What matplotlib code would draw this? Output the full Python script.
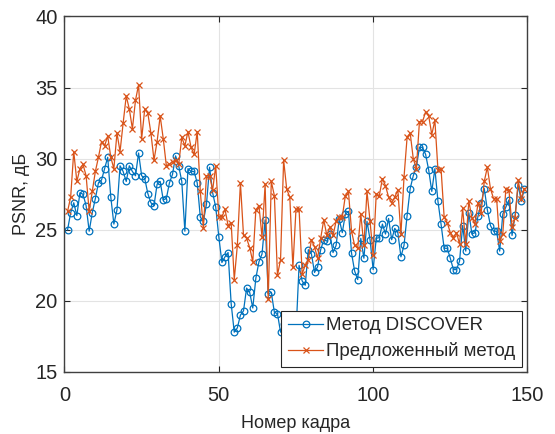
import numpy as np
import matplotlib
matplotlib.use('Agg')
import matplotlib.pyplot as plt

plt.rcParams['font.family'] = ['Liberation Sans', 'DejaVu Sans']

# PSNR по кадрам (оценка по картинке)
frames = np.arange(1, 150)

psnr_discover = [
    25.0, 26.2, 26.9, 26.0, 27.6, 27.5, 26.7, 24.9, 26.2, 27.2, 28.3, 28.5,
    29.3, 30.1, 27.3, 25.4, 26.4, 29.5, 29.1, 28.4, 29.5, 29.1, 28.8, 30.4,
    28.8, 28.6, 27.55, 26.9, 26.7, 28.2, 28.4, 27.1, 27.2, 28.3, 28.9, 30.2,
    29.5, 28.4, 24.9, 29.3, 29.1, 29.1, 28.3, 25.9, 25.6, 26.8, 29.4, 27.6,
    26.6, 24.5, 22.7, 23.1, 23.4, 19.8, 17.8, 18.1, 19.0, 19.3, 20.9, 20.6,
    19.5, 21.6, 22.75, 23.3, 25.7, 20.5, 20.6, 19.2, 19.1, 17.8,
    18.4, 17.6, 18.9, 18.0, 17.7,
    22.5, 21.4, 21.1, 23.6, 23.3, 22.0, 22.4, 23.6, 24.3, 24.2, 24.7, 23.4,
    23.9, 25.75, 24.8, 26.1, 26.3, 23.35, 22.1, 21.5, 24.4, 23.0, 25.6, 24.3, 22.2,
    24.4, 24.45, 25.4, 24.7, 25.8, 24.3, 25.1, 24.8, 23.1, 23.9, 26.0, 27.9,
    28.8, 29.4, 30.8, 30.8, 30.3, 29.2, 27.7, 29.3, 27.0, 25.4, 23.7, 23.7, 23.0,
    22.2, 22.2, 22.8, 25.3, 23.5, 26.2, 24.7, 24.8, 26.0, 26.85, 27.9, 26.4,
    25.3, 24.9, 24.9, 23.5, 26.1, 26.6, 27.1, 24.6, 26.05, 28.15, 27.0, 27.9,
]

psnr_proposed = [
    26.3, 27.3, 30.5, 28.4, 29.3, 29.6, 28.8, 26.3, 27.7, 29.1, 30.1, 31.2,
    30.9, 31.6, 30.1, 29.3, 31.8, 30.5, 32.5, 34.4, 33.5, 32.1, 34.1, 35.2,
    31.4, 33.5, 33.2, 31.8, 29.9, 31.2, 33.0, 31.4, 29.5, 29.6, 29.8, 29.9,
    29.6, 31.5, 30.9, 31.9, 30.8, 30.3, 31.9, 27.7, 25.1, 28.8, 28.8, 27.8,
    29.5, 25.9, 25.9, 26.45, 25.3, 25.5, 21.5, 23.9, 28.3, 24.6, 24.4, 23.75,
    22.75, 26.4, 26.7, 24.5, 28.2, 20.1, 28.4, 27.4, 21.8, 22.9, 29.9, 27.85,
    27.3, 22.35, 26.45, 26.45,
    21.9, 22.5, 22.9, 24.3, 23.8, 23.0, 24.4, 25.7, 24.6, 25.2, 24.6, 25.6,
    25.9, 25.9, 27.4, 27.7, 24.9, 23.9, 23.7, 26.1, 23.9, 27.7, 25.6, 23.2,
    27.5, 27.4, 28.6, 28.1, 27.3, 26.9, 27.3, 27.8, 24.7, 28.7, 31.5, 31.8,
    30.0, 29.3, 32.6, 32.6, 33.3, 33.0, 31.7, 32.7, 29.2,
    29.3, 25.9, 25.5, 24.8, 24.45, 24.8, 24.0, 26.5, 24.0, 27.0, 25.85, 25.4,
    26.9, 26.2, 28.4, 29.4, 27.9, 27.2, 27.2, 24.2, 24.7, 27.9, 27.8, 25.2,
    25.8, 28.5, 27.2, 27.9,
]

labels = ['Метод DISCOVER', 'Предложенный метод']
x_ticks = [0, 50, 100, 150]
y_ticks = [15, 20, 25, 30, 35, 40]

fig = plt.figure(figsize=(5.55, 4.34), dpi=100)
ax = fig.add_axes([0.1162, 0.1429, 0.8342, 0.8191])

ax.plot(frames, psnr_discover, color='#0072BD', marker='o', markersize=4.8,
        markerfacecolor='none', markeredgewidth=0.9, linewidth=0.9, label=labels[0])
ax.plot(frames, psnr_proposed, color='#D95319', marker='x', markersize=4.8,
        markeredgewidth=0.9, linewidth=0.9, label=labels[1])

ax.set_xlim(0, 150)
ax.set_ylim(15, 40)
ax.set_xticks(x_ticks)
ax.set_yticks(y_ticks)
ax.tick_params(axis='both', direction='in', length=4, width=0.8, colors='#262626',
               labelsize=14.5, top=True, right=True, pad=5)
ax.tick_params(axis='x', pad=10)
ax.grid(True, color='#e3e3e3', linewidth=0.8)
ax.set_axisbelow(True)
for s in ax.spines.values():
    s.set_color('#404040')
    s.set_linewidth(1.0)

ax.set_xlabel('Номер кадра', fontsize=13, color='#262626', labelpad=7)
ax.set_ylabel('PSNR, дБ', fontsize=13, color='#262626', labelpad=4)

leg = ax.legend(loc='lower right', bbox_to_anchor=(0.988, 0.014), borderaxespad=0,
                fontsize=13.4, fancybox=False, edgecolor='#262626', framealpha=1,
                handlelength=1.9, handletextpad=0.15, borderpad=0.35, labelspacing=0.45)
leg.get_frame().set_linewidth(0.8)
for t in leg.get_texts():
    t.set_color('#262626')

fig.savefig('out.png', dpi=100)
